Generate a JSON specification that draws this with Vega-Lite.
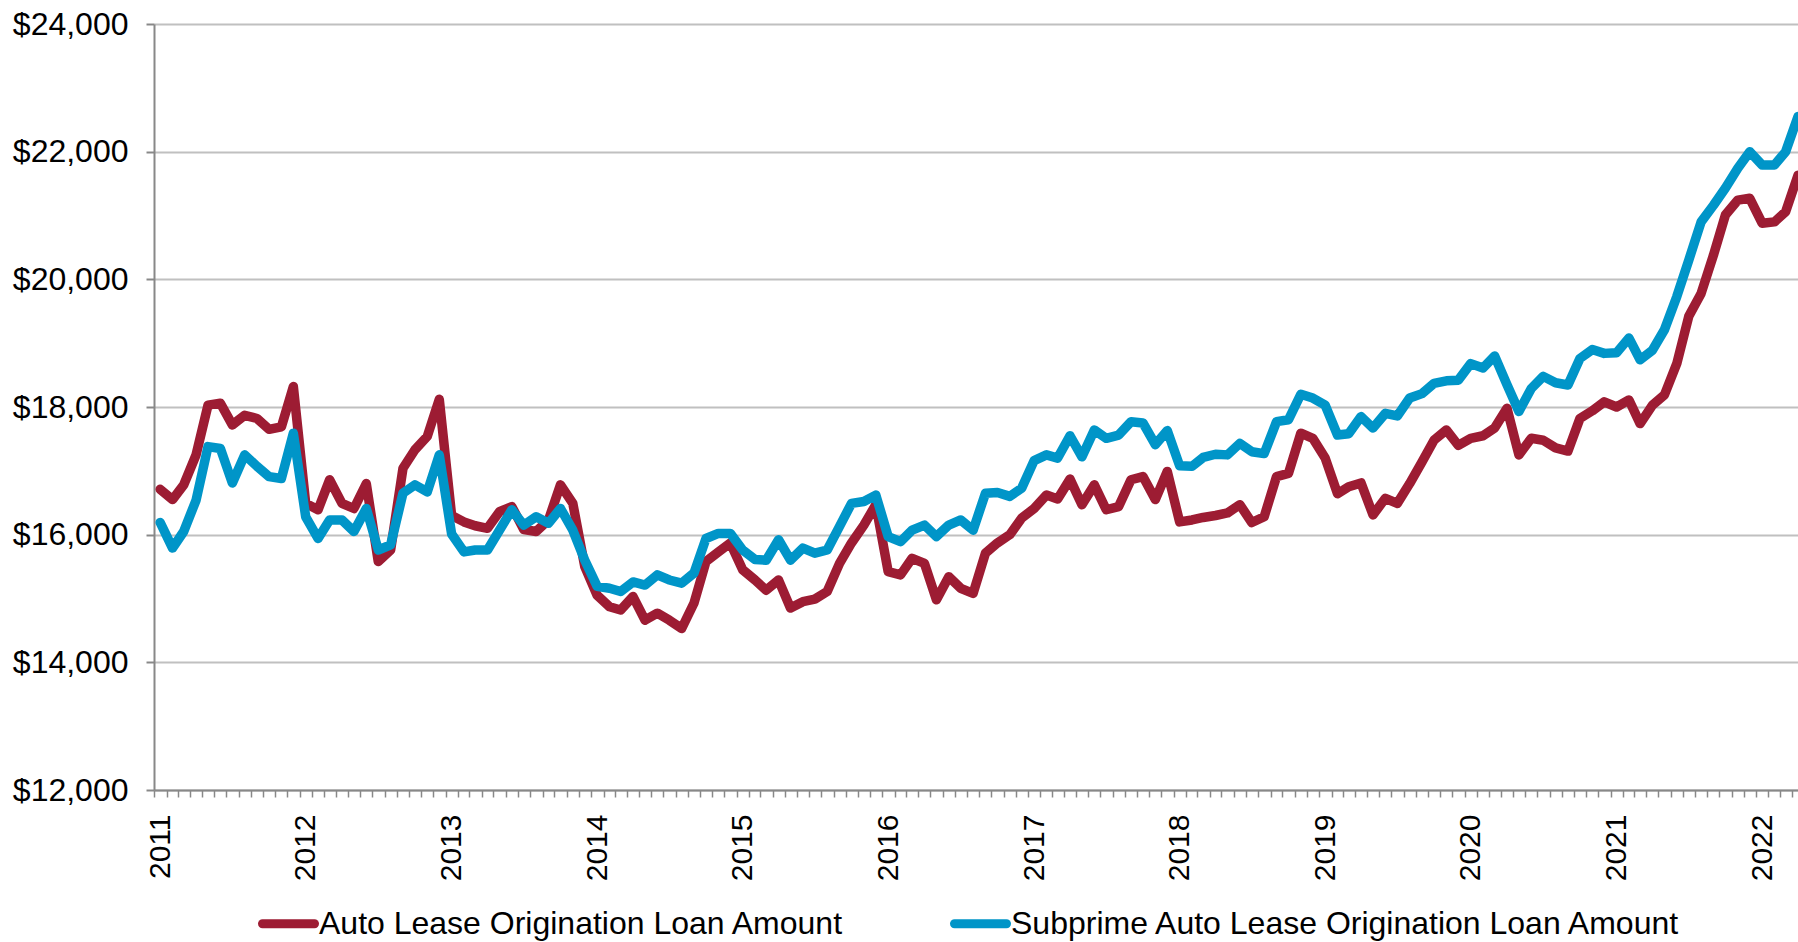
{
  "$schema": "https://vega.github.io/schema/vega-lite/v6.json",
  "autosize": {"type": "none"},
  "padding": {"left": 154, "top": 24, "right": 0, "bottom": 152},
  "width": 1644,
  "height": 766,
  "background": "white",
  "config": {
    "view": {"stroke": null},
    "font": "Liberation Sans",
    "axis": {"labelFont": "Liberation Sans", "labelColor": "#000000", "domainColor": "#888888", "tickColor": "#888888"}
  },
  "data": {
    "values": [
      {"month": "2011-01-01", "auto": 16710, "subprime": 16190},
      {"month": "2011-02-01", "auto": 16550, "subprime": 15790},
      {"month": "2011-03-01", "auto": 16780, "subprime": 16050},
      {"month": "2011-04-01", "auto": 17250, "subprime": 16540},
      {"month": "2011-05-01", "auto": 18030, "subprime": 17380},
      {"month": "2011-06-01", "auto": 18060, "subprime": 17350},
      {"month": "2011-07-01", "auto": 17720, "subprime": 16810},
      {"month": "2011-08-01", "auto": 17870, "subprime": 17250},
      {"month": "2011-09-01", "auto": 17820, "subprime": 17070},
      {"month": "2011-10-01", "auto": 17650, "subprime": 16910},
      {"month": "2011-11-01", "auto": 17690, "subprime": 16880},
      {"month": "2011-12-01", "auto": 18320, "subprime": 17590},
      {"month": "2012-01-01", "auto": 16490, "subprime": 16280},
      {"month": "2012-02-01", "auto": 16390, "subprime": 15940},
      {"month": "2012-03-01", "auto": 16860, "subprime": 16230},
      {"month": "2012-04-01", "auto": 16490, "subprime": 16230},
      {"month": "2012-05-01", "auto": 16410, "subprime": 16050},
      {"month": "2012-06-01", "auto": 16800, "subprime": 16410},
      {"month": "2012-07-01", "auto": 15580, "subprime": 15760},
      {"month": "2012-08-01", "auto": 15760, "subprime": 15840},
      {"month": "2012-09-01", "auto": 17040, "subprime": 16650},
      {"month": "2012-10-01", "auto": 17330, "subprime": 16780},
      {"month": "2012-11-01", "auto": 17540, "subprime": 16670},
      {"month": "2012-12-01", "auto": 18120, "subprime": 17250},
      {"month": "2013-01-01", "auto": 16300, "subprime": 16010},
      {"month": "2013-02-01", "auto": 16200, "subprime": 15730},
      {"month": "2013-03-01", "auto": 16140, "subprime": 15760},
      {"month": "2013-04-01", "auto": 16100, "subprime": 15760},
      {"month": "2013-05-01", "auto": 16360, "subprime": 16070},
      {"month": "2013-06-01", "auto": 16440, "subprime": 16390},
      {"month": "2013-07-01", "auto": 16080, "subprime": 16150},
      {"month": "2013-08-01", "auto": 16050, "subprime": 16280},
      {"month": "2013-09-01", "auto": 16230, "subprime": 16180},
      {"month": "2013-10-01", "auto": 16780, "subprime": 16410},
      {"month": "2013-11-01", "auto": 16490, "subprime": 16070},
      {"month": "2013-12-01", "auto": 15500, "subprime": 15600},
      {"month": "2014-01-01", "auto": 15050, "subprime": 15190},
      {"month": "2014-02-01", "auto": 14870, "subprime": 15160},
      {"month": "2014-03-01", "auto": 14820, "subprime": 15110},
      {"month": "2014-04-01", "auto": 15030, "subprime": 15260},
      {"month": "2014-05-01", "auto": 14660, "subprime": 15210},
      {"month": "2014-06-01", "auto": 14770, "subprime": 15370},
      {"month": "2014-07-01", "auto": 14660, "subprime": 15290},
      {"month": "2014-08-01", "auto": 14530, "subprime": 15240},
      {"month": "2014-09-01", "auto": 14930, "subprime": 15400},
      {"month": "2014-10-01", "auto": 15580, "subprime": 15940},
      {"month": "2014-11-01", "auto": 15730, "subprime": 16020},
      {"month": "2014-12-01", "auto": 15870, "subprime": 16020},
      {"month": "2015-01-01", "auto": 15450, "subprime": 15760},
      {"month": "2015-02-01", "auto": 15290, "subprime": 15610},
      {"month": "2015-03-01", "auto": 15130, "subprime": 15600},
      {"month": "2015-04-01", "auto": 15290, "subprime": 15920},
      {"month": "2015-05-01", "auto": 14850, "subprime": 15600},
      {"month": "2015-06-01", "auto": 14950, "subprime": 15790},
      {"month": "2015-07-01", "auto": 14990, "subprime": 15710},
      {"month": "2015-08-01", "auto": 15110, "subprime": 15760},
      {"month": "2015-09-01", "auto": 15550, "subprime": 16130},
      {"month": "2015-10-01", "auto": 15870, "subprime": 16490},
      {"month": "2015-11-01", "auto": 16150, "subprime": 16520},
      {"month": "2015-12-01", "auto": 16470, "subprime": 16620},
      {"month": "2016-01-01", "auto": 15420, "subprime": 15970},
      {"month": "2016-02-01", "auto": 15370, "subprime": 15890},
      {"month": "2016-03-01", "auto": 15630, "subprime": 16070},
      {"month": "2016-04-01", "auto": 15550, "subprime": 16150},
      {"month": "2016-05-01", "auto": 14980, "subprime": 15970},
      {"month": "2016-06-01", "auto": 15340, "subprime": 16150},
      {"month": "2016-07-01", "auto": 15160, "subprime": 16230},
      {"month": "2016-08-01", "auto": 15080, "subprime": 16070},
      {"month": "2016-09-01", "auto": 15710, "subprime": 16650},
      {"month": "2016-10-01", "auto": 15870, "subprime": 16660},
      {"month": "2016-11-01", "auto": 16000, "subprime": 16600},
      {"month": "2016-12-01", "auto": 16260, "subprime": 16730},
      {"month": "2017-01-01", "auto": 16410, "subprime": 17160},
      {"month": "2017-02-01", "auto": 16620, "subprime": 17250},
      {"month": "2017-03-01", "auto": 16560, "subprime": 17200},
      {"month": "2017-04-01", "auto": 16870, "subprime": 17550},
      {"month": "2017-05-01", "auto": 16470, "subprime": 17220},
      {"month": "2017-06-01", "auto": 16780, "subprime": 17640},
      {"month": "2017-07-01", "auto": 16390, "subprime": 17510},
      {"month": "2017-08-01", "auto": 16440, "subprime": 17560},
      {"month": "2017-09-01", "auto": 16860, "subprime": 17770},
      {"month": "2017-10-01", "auto": 16910, "subprime": 17750},
      {"month": "2017-11-01", "auto": 16550, "subprime": 17410},
      {"month": "2017-12-01", "auto": 16990, "subprime": 17630},
      {"month": "2018-01-01", "auto": 16200, "subprime": 17080},
      {"month": "2018-02-01", "auto": 16230, "subprime": 17070},
      {"month": "2018-03-01", "auto": 16270, "subprime": 17210},
      {"month": "2018-04-01", "auto": 16300, "subprime": 17260},
      {"month": "2018-05-01", "auto": 16340, "subprime": 17250},
      {"month": "2018-06-01", "auto": 16470, "subprime": 17430},
      {"month": "2018-07-01", "auto": 16190, "subprime": 17300},
      {"month": "2018-08-01", "auto": 16280, "subprime": 17270},
      {"month": "2018-09-01", "auto": 16910, "subprime": 17770},
      {"month": "2018-10-01", "auto": 16960, "subprime": 17800},
      {"month": "2018-11-01", "auto": 17590, "subprime": 18200},
      {"month": "2018-12-01", "auto": 17510, "subprime": 18140},
      {"month": "2019-01-01", "auto": 17200, "subprime": 18030},
      {"month": "2019-02-01", "auto": 16640, "subprime": 17560},
      {"month": "2019-03-01", "auto": 16750, "subprime": 17580},
      {"month": "2019-04-01", "auto": 16810, "subprime": 17850},
      {"month": "2019-05-01", "auto": 16310, "subprime": 17670},
      {"month": "2019-06-01", "auto": 16570, "subprime": 17900},
      {"month": "2019-07-01", "auto": 16490, "subprime": 17860},
      {"month": "2019-08-01", "auto": 16800, "subprime": 18140},
      {"month": "2019-09-01", "auto": 17140, "subprime": 18210},
      {"month": "2019-10-01", "auto": 17480, "subprime": 18370},
      {"month": "2019-11-01", "auto": 17640, "subprime": 18410},
      {"month": "2019-12-01", "auto": 17400, "subprime": 18420},
      {"month": "2020-01-01", "auto": 17510, "subprime": 18680},
      {"month": "2020-02-01", "auto": 17550, "subprime": 18610},
      {"month": "2020-03-01", "auto": 17670, "subprime": 18800},
      {"month": "2020-04-01", "auto": 17980, "subprime": 18350},
      {"month": "2020-05-01", "auto": 17250, "subprime": 17930},
      {"month": "2020-06-01", "auto": 17510, "subprime": 18290},
      {"month": "2020-07-01", "auto": 17480, "subprime": 18480},
      {"month": "2020-08-01", "auto": 17360, "subprime": 18380},
      {"month": "2020-09-01", "auto": 17310, "subprime": 18345},
      {"month": "2020-10-01", "auto": 17820, "subprime": 18760},
      {"month": "2020-11-01", "auto": 17940, "subprime": 18900},
      {"month": "2020-12-01", "auto": 18080, "subprime": 18840},
      {"month": "2021-01-01", "auto": 18000, "subprime": 18850},
      {"month": "2021-02-01", "auto": 18110, "subprime": 19080},
      {"month": "2021-03-01", "auto": 17740, "subprime": 18740},
      {"month": "2021-04-01", "auto": 18030, "subprime": 18890},
      {"month": "2021-05-01", "auto": 18190, "subprime": 19210},
      {"month": "2021-06-01", "auto": 18680, "subprime": 19730},
      {"month": "2021-07-01", "auto": 19420, "subprime": 20300},
      {"month": "2021-08-01", "auto": 19780, "subprime": 20900},
      {"month": "2021-09-01", "auto": 20380, "subprime": 21160},
      {"month": "2021-10-01", "auto": 21010, "subprime": 21430},
      {"month": "2021-11-01", "auto": 21240, "subprime": 21740},
      {"month": "2021-12-01", "auto": 21270, "subprime": 22000},
      {"month": "2022-01-01", "auto": 20880, "subprime": 21790},
      {"month": "2022-02-01", "auto": 20900, "subprime": 21790},
      {"month": "2022-03-01", "auto": 21060, "subprime": 22000},
      {"month": "2022-04-01", "auto": 21630, "subprime": 22550}
    ]
  },
  "transform": [
    {"fold": ["auto", "subprime"], "as": ["series", "amount"]}
  ],
  "mark": {"type": "line", "strokeWidth": 9.5, "strokeCap": "round", "strokeJoin": "round"},
  "encoding": {
    "x": {
      "field": "month",
      "type": "temporal",
      "scale": {
        "type": "utc",
        "domain": [
          {"year": 2010, "month": 12, "date": 16, "hours": 12, "utc": true},
          {"year": 2022, "month": 4, "date": 1, "utc": true}
        ]
      },
      "axis": {
        "title": null,
        "grid": false,
        "domain": true,
        "domainWidth": 2,
        "ticks": true,
        "tickSize": 7,
        "tickWidth": 1.5,
        "tickCount": {"interval": "month", "step": 1},
        "tickOffset": -6,
        "labelOffset": 6,
        "labelExpr": "utcFormat(datum.value, '%m') == '01' ? utcFormat(datum.value, '%Y') : ''",
        "labelAngle": 270,
        "labelAlign": "right",
        "labelBaseline": "middle",
        "labelFontSize": 30,
        "labelPadding": 17,
        "labelOverlap": false,
        "labelFlush": false,
        "labelBound": false
      }
    },
    "y": {
      "field": "amount",
      "type": "quantitative",
      "scale": {"domain": [12000, 24000], "nice": false, "zero": false},
      "axis": {
        "title": null,
        "values": [12000, 14000, 16000, 18000, 20000, 22000, 24000],
        "format": "$,.0f",
        "grid": true,
        "gridColor": "#C0C0C0",
        "gridWidth": 2,
        "domain": true,
        "domainWidth": 2,
        "ticks": true,
        "tickSize": 8,
        "tickWidth": 2,
        "labelFontSize": 32,
        "labelPadding": 18,
        "labelFlush": false
      }
    },
    "color": {
      "field": "series",
      "type": "nominal",
      "scale": {"domain": ["auto", "subprime"], "range": ["#9D1C33", "#0095C8"]},
      "legend": {
        "title": null,
        "orient": "none",
        "direction": "horizontal",
        "legendX": 104,
        "legendY": 869,
        "padding": 0,
        "symbolType": "stroke",
        "symbolSize": 2704,
        "symbolStrokeWidth": 9,
        "labelFont": "Liberation Sans",
        "labelFontSize": 32,
        "labelColor": "#000000",
        "labelLimit": 2000,
        "labelOffset": 0,
        "columnPadding": 92,
        "labelExpr": "datum.label == 'auto' ? 'Auto Lease Origination Loan Amount' : 'Subprime Auto Lease Origination Loan Amount'",
        "encode": {"symbols": {"update": {"strokeCap": {"value": "round"}}}}
      }
    }
  }
}
